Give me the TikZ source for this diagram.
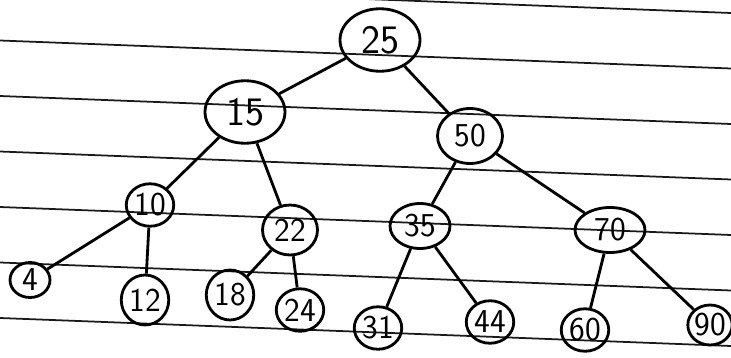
\documentclass[tikz,border=0pt]{standalone}
\usetikzlibrary{shapes.geometric}

\tikzset{
    bstnode/.style={draw, ellipse, line width=1.6pt, inner sep=0pt,
        minimum width=0.95cm, minimum height=0.85cm, font=\sffamily\fontsize{19}{21}\selectfont},
    bignode/.style={bstnode, minimum width=1.6cm, minimum height=1.25cm, font=\sffamily\fontsize{23}{25}\selectfont},
    bstedge/.style={line width=1.6pt}
}

\begin{document}
\begin{tikzpicture}[x=0.02cm, y=-0.02cm]
    % Page
    \useasboundingbox (0,0) rectangle (731,358);
    \fill[white] (0,0) rectangle (731,358);

    % Ruled lines of the sheet
    \foreach \k in {0,...,6} {
        \draw[black!90, line width=1pt] (0,{-15+55.5*\k}) -- (731,{13+55.5*\k});
    }

    % Root and upper levels
    \node[bignode] (n25) at (380,40) {25};
    \node[bignode] (n15) at (245,112) {15};
    \node[bstnode, minimum width=1.3cm, minimum height=1.1cm] (n50) at (470,136) {50};

    % Third level
    \node[bstnode] (n10) at (150,205) {10};
    \node[bstnode, minimum width=1.1cm, minimum height=1cm] (n22) at (290,230) {22};
    \node[bstnode, minimum width=1.2cm, minimum height=0.9cm] (n35) at (420,226) {35};
    \node[bstnode, minimum width=1.4cm, minimum height=0.9cm] (n70) at (610,230) {70};

    % Leaves
    \node[bstnode, minimum width=0.8cm, minimum height=0.7cm] (n4) at (30,280) {4};
    \node[bstnode, minimum height=1cm] (n12) at (145,300) {12};
    \node[bstnode, minimum height=1cm] (n18) at (230,295) {18};
    \node[bstnode] (n24) at (300,310) {24};
    \node[bstnode] (n31) at (378,328) {31};
    \node[bstnode] (n44) at (490,322) {44};
    \node[bstnode] (n60) at (585,330) {60};
    \node[bstnode, minimum width=0.8cm, minimum height=0.8cm] (n90) at (710,325) {90};

    % Edges
    \draw[bstedge] (n25) -- (n15);
    \draw[bstedge] (n25) -- (n50);
    \draw[bstedge] (n15) -- (n10);
    \draw[bstedge] (n15) -- (n22);
    \draw[bstedge] (n50) -- (n35);
    \draw[bstedge] (n50) -- (n70);
    \draw[bstedge] (n10) -- (n4);
    \draw[bstedge] (n10) -- (n12);
    \draw[bstedge] (n22) -- (n18);
    \draw[bstedge] (n22) -- (n24);
    \draw[bstedge] (n35) -- (n31);
    \draw[bstedge] (n35) -- (n44);
    \draw[bstedge] (n70) -- (n60);
    \draw[bstedge] (n70) -- (n90);
\end{tikzpicture}
\end{document}
